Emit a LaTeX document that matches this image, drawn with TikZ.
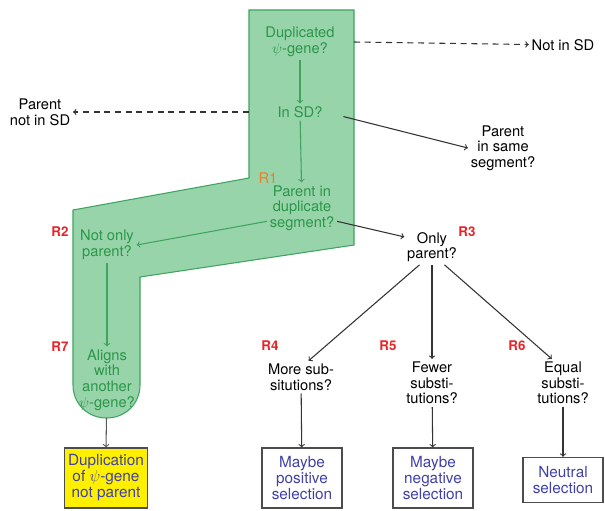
\documentclass[tikz,border=0pt]{standalone}
\usepackage{fontspec}
\setmainfont{TeX Gyre Heros}
\definecolor{gfill}{RGB}{152,212,170}
\definecolor{gline}{RGB}{62,164,96}
\definecolor{gtext}{RGB}{44,150,74}
\definecolor{rred}{RGB}{232,36,40}
\definecolor{rorange}{RGB}{236,128,40}
\definecolor{btext}{RGB}{64,64,168}
\definecolor{ybox}{RGB}{255,240,0}
\begin{document}
\begin{tikzpicture}[>=to,x=0.75pt,y=-0.75pt,
	every node/.style={font=\fontsize{11}{11.8}\selectfont,align=center,inner sep=2pt},
	gq/.style={text=gtext},
	rlab/.style={text=rred,font=\fontsize{10}{12}\selectfont\bfseries},
	garr/.style={->,gline,thick},
	barr/.style={->,black!80,thick},
	dasharr/.style={->,black!80,thick,dash pattern=on 4.5pt off 3.5pt},
	outbox/.style={draw=black!70,thick,text=btext,minimum width=60pt,inner sep=3pt,font=\fontsize{11.5}{12}\selectfont}]
	\useasboundingbox (0,0) rectangle (605,510);
	% green band
	\draw[gline,fill=gfill,thick] (249,10) coordinate (tl) -- (354,10) coordinate (tr) -- (354,245) -- (140,277) -- (140,385)
		.. controls (140,404) and (125,418) .. (106.5,418) coordinate (gbot)
		.. controls (88,418) and (73,404) .. (73,385) -- (73,210) -- (249,178) -- cycle;
	\node[gq] (dup) at (300,42) {Duplicated\\$\psi$-gene?};
	\node[gq] (insd) at (300,112) {In SD?};
	\node[gq] (pidup) at (302,208) {Parent in\\duplicate\\segment?};
	\node[gq] (notonly) at (107,245) {Not only\\parent?};
	\node[gq] (aligns) at (107,380) {Aligns\\with\\another\\$\psi$-gene?};
	\node (notsd) at (563,45) {Not in SD};
	\node (pnotsd) at (40,112) {Parent\\not in SD};
	\node (psame) at (503,148) {Parent\\in same\\segment?};
	\node (only) at (432,247) {Only\\parent?};
	\node (more) at (301,377) {More sub-\\situtions?};
	\node (fewer) at (432,383) {Fewer\\substi-\\tutions?};
	\node (equal) at (563,383) {Equal\\substi-\\tutions?};
	\node[outbox,fill=ybox,minimum height=45pt] (dupbox) at (106,478) {Duplication\\of $\psi$-gene\\not parent};
	\node[outbox,minimum height=45pt] (posbox) at (302,478) {Maybe\\positive\\selection};
	\node[outbox,minimum height=45pt] (negbox) at (433,478) {Maybe\\negative\\selection};
	\node[outbox,minimum height=34pt] (neubox) at (563,480) {Neutral\\selection};
	% rule labels
	\node[text=rorange] (r1) at (268,178) {R1};
	\node[rlab] (r2) at (60,232) {R2};
	\node[rlab] (r3) at (467,232) {R3};
	\node[rlab] (r4) at (270,346) {R4};
	\node[rlab] (r5) at (388,346) {R5};
	\node[rlab] (r6) at (517,346) {R6};
	\node[rlab] (r7) at (60,347) {R7};
	% connectors
	\draw[garr] (dup) -- (insd);
	\draw[garr] (insd) -- (pidup);
	\draw[garr] ([yshift=-10pt]pidup.west) -- (notonly.east);
	\draw[garr] (notonly) -- (aligns);
	\draw[dasharr] (dup.east -| tr) -- (notsd);
	\draw[dasharr] (insd.west -| tl) -- (pnotsd);
	\draw[barr,shorten <=14pt] (insd.east) -- (psame.west);
	\draw[barr] ([yshift=-10pt]pidup.east) -- (only.160);
	\draw[barr] (only.235) -- (more.65);
	\draw[barr] (only.south) -- (fewer.north);
	\draw[barr] (only.305) -- (equal.115);
	\draw[barr,black!65] (gbot) -- (dupbox.north);
	\draw[barr] (more) -- (posbox);
	\draw[barr] (fewer) -- (negbox);
	\draw[barr] (equal) -- (neubox);
\end{tikzpicture}
\end{document}
